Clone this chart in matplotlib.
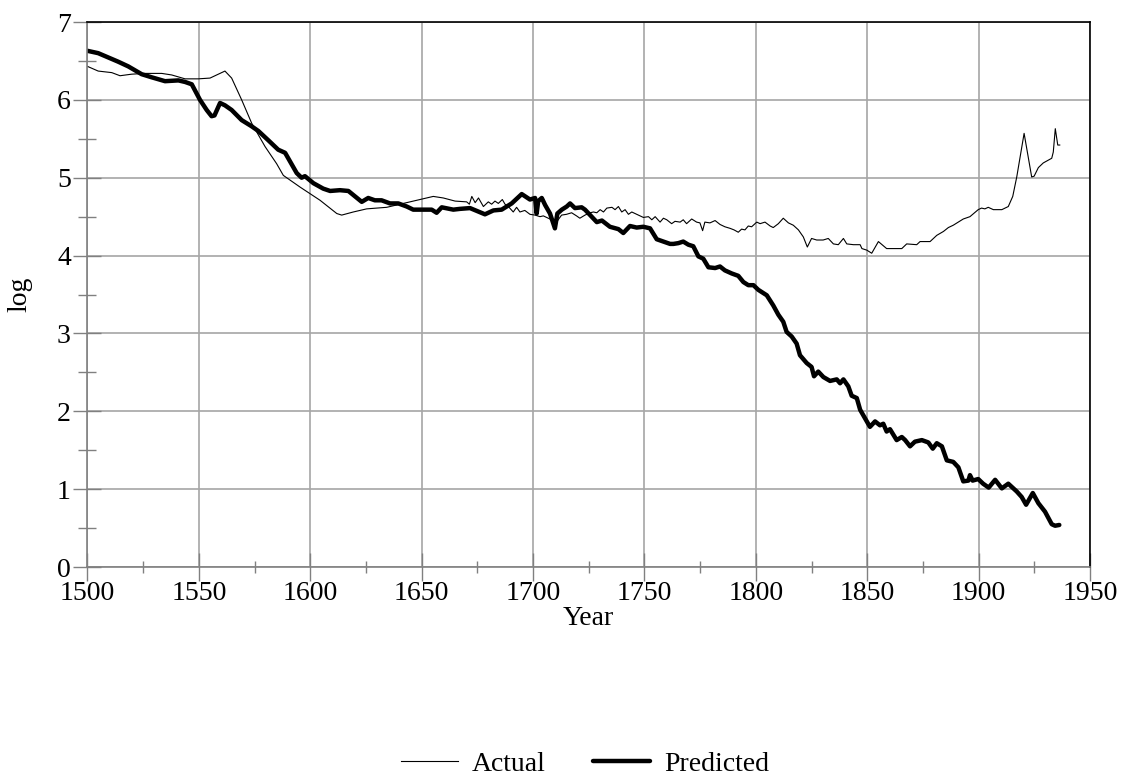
import numpy as np
import matplotlib
matplotlib.use("Agg")
import matplotlib.pyplot as plt
from matplotlib.ticker import MultipleLocator

# ---- data ----
actual_year = [1500, 1504.8, 1510.9, 1514.6, 1519.8, 1525.8, 1533.3, 1537.8, 1543.8, 1549.7,
               1555, 1561.7, 1564.7, 1569.2, 1573.7, 1579.7, 1584.9, 1587.9, 1595.4, 1604.4,
               1611.9, 1614.1, 1619.3, 1625.3, 1634.3, 1640.3, 1649.2, 1655.2, 1659.7, 1665,
               1670.2, 1671.4, 1672.5, 1674, 1675.5, 1677.7, 1679.9, 1681.4, 1682.9, 1684.4,
               1686.2, 1687.4, 1688.9, 1691.1, 1692.6, 1694.1, 1696.3, 1698.6, 1700.9, 1703.1,
               1704.6, 1706.8, 1708.3, 1710.5, 1712.8, 1715, 1717.3, 1719.5, 1721, 1723.3,
               1725.6, 1727.1, 1728.6, 1730.1, 1731.6, 1733.1, 1735.4, 1736.8, 1738.3, 1739.8,
               1741.3, 1742.8, 1744.3, 1746.5, 1749.5, 1751.8, 1753.3, 1754.8, 1757, 1758.5,
               1760, 1762.2, 1763.7, 1766, 1767.4, 1768.9, 1771.2, 1773.4, 1774.9, 1776.1,
               1777.1, 1779.4, 1781.7, 1783.9, 1786.1, 1788.4, 1790.2, 1792.1, 1793.6, 1795.1,
               1796.6, 1798.1, 1800.4, 1801.9, 1804.1, 1806.4, 1807.8, 1810.1, 1812.3, 1814.6,
               1816.8, 1819.1, 1821.3, 1823.1, 1825, 1827.3, 1830.2, 1832.5, 1834.8, 1837,
               1839.3, 1840.8, 1843.8, 1846.8, 1847.6, 1849.8, 1852, 1855, 1858.7, 1865.5,
               1867.7, 1872.2, 1873.7, 1878.2, 1881.2, 1884.2, 1886.4, 1888.6, 1893.1, 1896.1,
               1899.8, 1901.3, 1902.8, 1904.3, 1906.6, 1910.4, 1913.3, 1915.3, 1917.1, 1920.4,
               1923.8, 1924.9, 1926.8, 1929, 1932.8, 1933.5, 1934.4, 1935.5, 1936.4]
actual_val = [6.43, 6.37, 6.35, 6.31, 6.33, 6.34, 6.34, 6.32, 6.27, 6.27,
              6.28, 6.37, 6.28, 6.00, 5.70, 5.40, 5.18, 5.03, 4.88, 4.71,
              4.54, 4.52, 4.56, 4.60, 4.62, 4.66, 4.72, 4.76, 4.74, 4.70,
              4.69, 4.66, 4.76, 4.68, 4.74, 4.63, 4.69, 4.66, 4.70, 4.67,
              4.72, 4.66, 4.63, 4.56, 4.62, 4.56, 4.58, 4.53, 4.52, 4.50,
              4.51, 4.48, 4.46, 4.43, 4.52, 4.53, 4.55, 4.51, 4.48, 4.52,
              4.55, 4.56, 4.55, 4.59, 4.56, 4.61, 4.62, 4.59, 4.63, 4.56,
              4.59, 4.53, 4.56, 4.53, 4.49, 4.50, 4.46, 4.50, 4.43, 4.48,
              4.46, 4.41, 4.44, 4.43, 4.46, 4.41, 4.47, 4.43, 4.42, 4.32,
              4.43, 4.42, 4.45, 4.40, 4.37, 4.35, 4.33, 4.30, 4.34, 4.33,
              4.38, 4.37, 4.43, 4.41, 4.43, 4.38, 4.36, 4.41, 4.48, 4.42,
              4.39, 4.33, 4.24, 4.11, 4.22, 4.20, 4.20, 4.22, 4.15, 4.14,
              4.22, 4.15, 4.14, 4.14, 4.09, 4.07, 4.03, 4.18, 4.09, 4.09,
              4.15, 4.14, 4.18, 4.18, 4.26, 4.31, 4.36, 4.39, 4.47, 4.50,
              4.59, 4.61, 4.60, 4.62, 4.59, 4.59, 4.63, 4.76, 5.01, 5.57,
              5.01, 5.02, 5.13, 5.19, 5.25, 5.33, 5.63, 5.42, 5.42]

pred_year = [1500, 1504.8, 1513.8, 1518.3, 1524.3, 1528.8, 1534.8, 1540.8, 1543.8, 1546.8,
             1550.5, 1553.5, 1555.7, 1557, 1559.5, 1561.7, 1564.7, 1569.2, 1573.7, 1576.7,
             1581.2, 1585.6, 1588.7, 1590.9, 1593.9, 1596.1, 1597.6, 1601.4, 1605.8, 1608.9,
             1613.3, 1617.1, 1620.1, 1623.1, 1626, 1629, 1632, 1635.8, 1639.5, 1643.3,
             1646.2, 1650.7, 1654.5, 1656.7, 1659, 1664.2, 1667.2, 1671.7, 1678.4, 1682.2,
             1685.9, 1690.4, 1694.9, 1698.6, 1700.9, 1701.6, 1702.3, 1703.9, 1705.4, 1707.6,
             1709.8, 1710.9, 1712.9, 1715.1, 1716.6, 1718.8, 1721.8, 1723.3, 1725.6, 1728.6,
             1730.9, 1734.5, 1738.3, 1740.5, 1743.5, 1746.5, 1749.5, 1752.5, 1755.5, 1758.5,
             1761.5, 1763, 1765.2, 1767.4, 1769.7, 1771.9, 1774.2, 1776.4, 1778.7, 1781.7,
             1783.9, 1786.1, 1789.2, 1792.1, 1794.4, 1796.6, 1798.9, 1801.1, 1804.9, 1807.8,
             1810.1, 1812.3, 1813.8, 1816.1, 1818.3, 1819.8, 1822.8, 1825, 1826.1, 1828,
             1830.3, 1833.3, 1836.3, 1837.8, 1839.3, 1841.5, 1843, 1845.3, 1846.8, 1849,
             1851.2, 1853.5, 1855.7, 1857.2, 1858.7, 1860.2, 1863.2, 1865.5, 1867, 1869.2,
             1871.4, 1874.5, 1877.4, 1879.4, 1881.2, 1883.5, 1885.7, 1888.6, 1890.9, 1893.1,
             1895.4, 1896.1, 1897.3, 1899.8, 1902, 1904.5, 1907.4, 1910.4, 1913.3, 1917.1,
             1919.3, 1921.3, 1924.3, 1926.8, 1929.8, 1932.8, 1934.3, 1936.2]
pred_val = [6.63, 6.60, 6.49, 6.43, 6.33, 6.29, 6.24, 6.25, 6.23, 6.20,
            6.00, 5.87, 5.79, 5.80, 5.96, 5.93, 5.87, 5.74, 5.66, 5.60,
            5.48, 5.36, 5.32, 5.21, 5.06, 5.00, 5.02, 4.93, 4.86, 4.83,
            4.84, 4.83, 4.76, 4.69, 4.74, 4.71, 4.71, 4.67, 4.67, 4.63,
            4.59, 4.59, 4.59, 4.55, 4.62, 4.59, 4.60, 4.61, 4.53, 4.58,
            4.59, 4.67, 4.79, 4.72, 4.74, 4.54, 4.70, 4.74, 4.65, 4.54,
            4.35, 4.54, 4.59, 4.63, 4.67, 4.61, 4.62, 4.59, 4.52, 4.43,
            4.45, 4.37, 4.34, 4.29, 4.38, 4.36, 4.37, 4.35, 4.21, 4.18,
            4.15, 4.15, 4.16, 4.18, 4.14, 4.12, 3.99, 3.96, 3.85, 3.84,
            3.86, 3.81, 3.77, 3.74, 3.66, 3.62, 3.62, 3.56, 3.49, 3.36,
            3.24, 3.15, 3.02, 2.96, 2.87, 2.72, 2.62, 2.57, 2.45, 2.51,
            2.44, 2.39, 2.41, 2.36, 2.41, 2.32, 2.20, 2.17, 2.02, 1.91,
            1.80, 1.87, 1.82, 1.84, 1.74, 1.77, 1.63, 1.67, 1.63, 1.55,
            1.61, 1.63, 1.60, 1.52, 1.59, 1.55, 1.37, 1.35, 1.28, 1.10,
            1.11, 1.18, 1.11, 1.13, 1.07, 1.02, 1.12, 1.01, 1.07, 0.97,
            0.90, 0.80, 0.95, 0.82, 0.71, 0.55, 0.53, 0.54]

plt.rcParams["font.family"] = ["Liberation Serif", "DejaVu Serif"]

fig = plt.figure(figsize=(11.29, 7.78), dpi=100)
ax = fig.add_axes([0.0775, 0.2712, 0.888, 0.7005])

ax.plot(actual_year, actual_val, color="black", lw=0.8, label="Actual")
ax.plot(pred_year, pred_val, color="black", lw=3.2, label="Predicted",
        solid_joinstyle="round", solid_capstyle="round")

ax.set_xlim(1500, 1950); ax.set_ylim(0, 7)
ax.xaxis.set_major_locator(MultipleLocator(50)); ax.xaxis.set_minor_locator(MultipleLocator(25))
ax.yaxis.set_major_locator(MultipleLocator(1)); ax.yaxis.set_minor_locator(MultipleLocator(0.5))
ax.grid(which="major", color="#a6a6a6", lw=1.2)
ax.set_axisbelow(True)

ax.tick_params(which="major", direction="inout", length=20, width=1.0, color="#808080",
               labelsize=20, labelcolor="black")
ax.tick_params(axis="x", which="minor", direction="inout", length=9, width=1.0, color="#808080")
ax.tick_params(axis="y", which="minor", direction="inout", length=13, width=1.0, color="#808080")
ax.tick_params(axis="x", which="major", pad=0)
ax.tick_params(axis="y", which="major", pad=2)

for s in ("left", "bottom"):
    ax.spines[s].set_color("#808080"); ax.spines[s].set_linewidth(1.2)
for s in ("top", "right"):
    ax.spines[s].set_color("black"); ax.spines[s].set_linewidth(1.2)

ax.set_xlabel("Year", fontsize=20, labelpad=0)
ax.set_ylabel("log", fontsize=20, labelpad=18)

fig.legend(loc="center", bbox_to_anchor=(0.518, 0.018), ncol=2, frameon=False, fontsize=20,
           handlelength=2.05, handletextpad=0.5, columnspacing=1.7)

fig.savefig("out.png", dpi=100)
